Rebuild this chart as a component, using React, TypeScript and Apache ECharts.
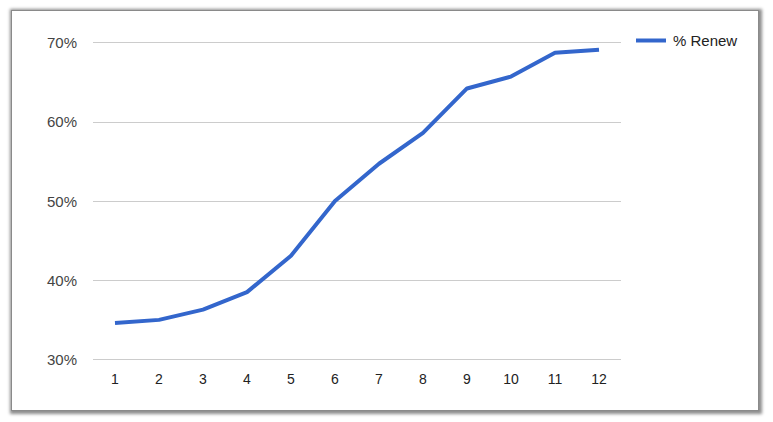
import React, { useEffect, useRef } from "react";
import * as echarts from "echarts";

const categories = ["1", "2", "3", "4", "5", "6", "7", "8", "9", "10", "11", "12"];
const renewValues = [34.6, 35.0, 36.3, 38.5, 43.1, 50.0, 54.7, 58.6, 64.2, 65.7, 68.7, 69.1];
const seriesName = "% Renew";

export default function App() {
  const ref = useRef<HTMLDivElement>(null);
  useEffect(() => {
    if (!ref.current) return;
    const chart = echarts.init(ref.current, null, { renderer: "svg" });
    chart.setOption({
      animation: false,
      backgroundColor: "transparent",
      textStyle: { fontFamily: "Liberation Sans, Arial, sans-serif" },
      grid: { left: 93, right: 152, top: 42.5, bottom: 62.5, containLabel: false },
      legend: {
        show: true,
        data: [{ name: seriesName, icon: "rect" }],
        left: 636,
        top: 33,
        padding: 0,
        itemWidth: 30,
        itemHeight: 4,
        itemGap: 10,
        textStyle: { fontSize: 15, color: "#222222", padding: [0, 0, 0, 2] },
      },
      xAxis: {
        type: "category",
        data: categories,
        boundaryGap: true,
        axisLine: { show: false },
        axisTick: { show: false },
        axisLabel: { fontSize: 14, color: "#222222", margin: 12 },
      },
      yAxis: {
        type: "value",
        min: 30,
        max: 70,
        interval: 10,
        axisLine: { show: false },
        axisTick: { show: false },
        axisLabel: { fontSize: 15, color: "#444444", margin: 16, formatter: "{value}%" },
        splitLine: { lineStyle: { color: "#cccccc", width: 1 } },
      },
      series: [
        {
          name: seriesName,
          type: "line",
          data: renewValues,
          symbol: "none",
          lineStyle: { color: "#3366cc", width: 4 },
          itemStyle: { color: "#3366cc" },
        },
      ],
    });
    return () => chart.dispose();
  }, []);
  return (
    <div style={{ position: "fixed", left: 0, top: 0, width: 773, height: 422, background: "#ffffff" }}>
      <div
        style={{
          position: "absolute",
          left: 11,
          top: 10,
          width: 746,
          height: 399,
          background: "#ffffff",
          border: "1px solid #8a8a8a",
          boxShadow: "1px 1px 3px 2px rgba(0,0,0,0.45)",
        }}
      />
      <div ref={ref} style={{ position: "absolute", left: 0, top: 0, width: 773, height: 422 }} />
    </div>
  );
}
